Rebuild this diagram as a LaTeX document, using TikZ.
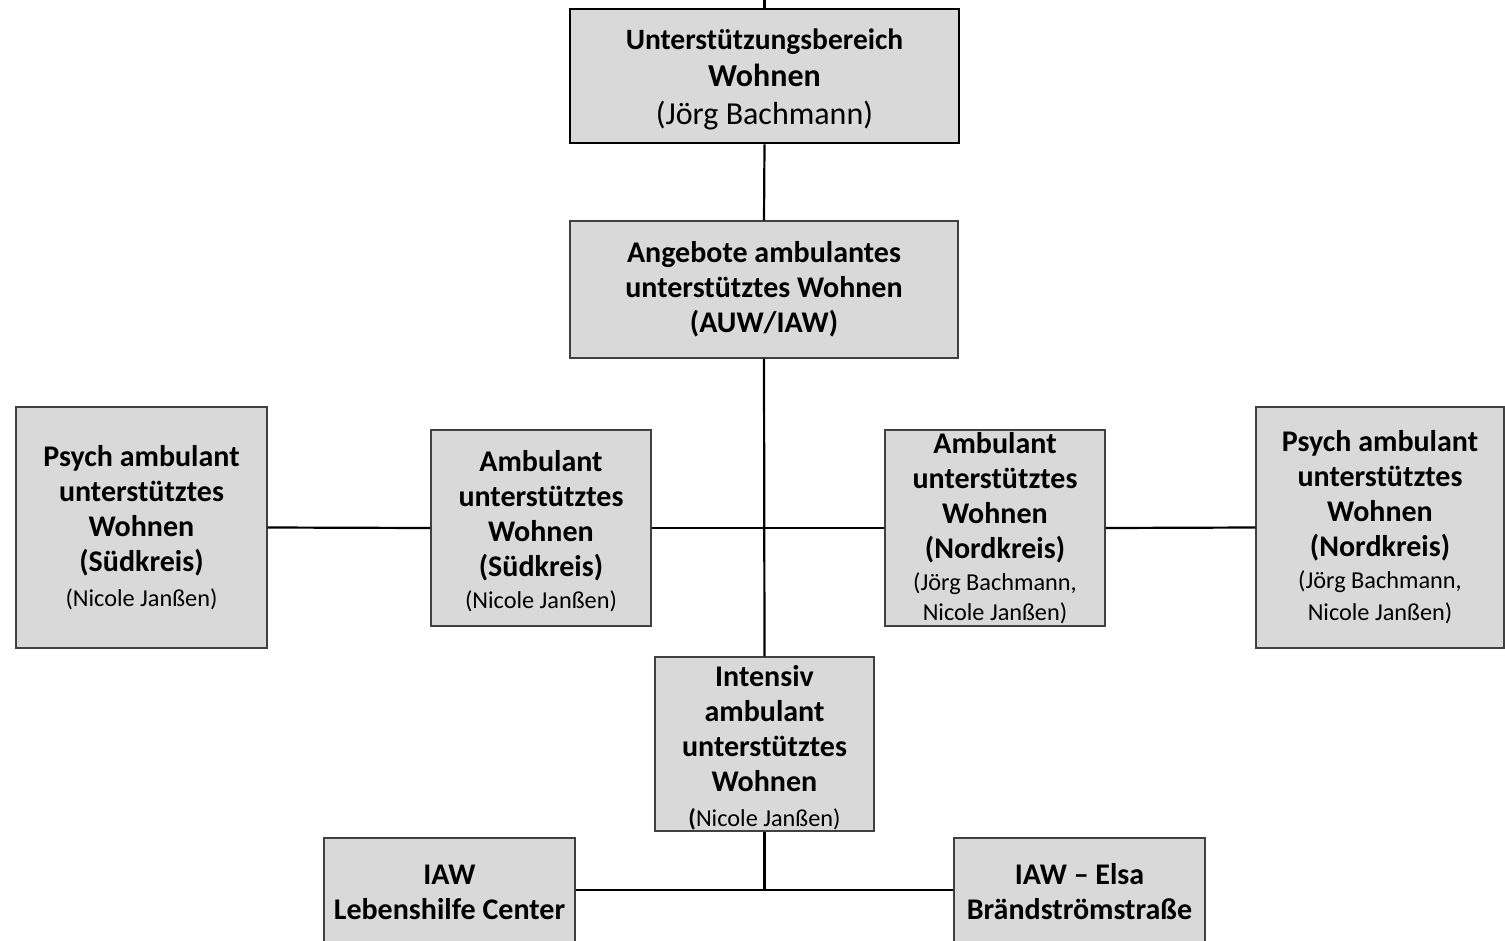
\documentclass[tikz,border=0pt]{standalone}
\usepackage{fontspec}
\setmainfont{Carlito}
\definecolor{boxfill}{HTML}{D9D9D9}
\definecolor{boxline}{HTML}{404040}
\newcommand{\bigb}{\fontsize{30}{35}\selectfont\bfseries}
\newcommand{\smallr}{\fontsize{24.3}{32}\selectfont\mdseries}
\tikzset{
  orgbox/.style={draw=boxline, line width=1.3pt, fill=boxfill, align=center, inner sep=0pt, font=\bigb},
  topbox/.style={orgbox, draw=black, line width=2.6pt},
  link/.style={draw=black, line width=2.2pt}
}
\begin{document}
\begin{tikzpicture}[x=1pt,y=-1pt]
\useasboundingbox (0,0) rectangle (1505,940);
\node[topbox, minimum width=389pt, minimum height=134pt] (top) at (764.5,76) {{\fontsize{29.5}{37}\selectfont\bfseries\rule{0pt}{27pt}Unterstützungsbereich}\\[2pt]{\fontsize{32}{38}\selectfont\bfseries Wohnen}\\[3pt]{\fontsize{32}{38}\selectfont\mdseries (Jörg Bachmann)}};
\node[orgbox, minimum width=388pt, minimum height=137pt] (ang) at (764,289.5) {Angebote ambulantes\\unterstütztes Wohnen\\(AUW/IAW)};
\node[orgbox, minimum width=251pt, minimum height=241pt] (psS) at (141.5,527.5) {Psych ambulant\\unterstütztes\\Wohnen\\(Südkreis)\\{\smallr (Nicole Janßen)}};
\node[orgbox, minimum width=220pt, minimum height=196pt] (amS) at (541,528) {\rule{0pt}{28pt}Ambulant\\unterstütztes\\Wohnen\\(Südkreis)\\[-3pt]{\smallr (Nicole Janßen)}};
\node[orgbox, minimum width=220pt, minimum height=196pt] (amN) at (995,528) {Ambulant\\unterstütztes\\Wohnen\\(Nordkreis)\\[-3pt]{\smallr (Jörg Bachmann,}\\[-5pt]{\smallr Nicole Janßen)}};
\node[orgbox, minimum width=248pt, minimum height=241pt] (psN) at (1380,527.5) {Psych ambulant\\unterstütztes\\Wohnen\\(Nordkreis)\\[-3pt]{\smallr (Jörg Bachmann,}\\[-3pt]{\smallr Nicole Janßen)}};
\node[orgbox, minimum width=219pt, minimum height=174pt] (int) at (764.5,744) {\rule{0pt}{28pt}Intensiv\\ambulant\\unterstütztes\\Wohnen\\{\smallr\textbf{(}Nicole Janßen)}};
\node[orgbox, minimum width=251pt, minimum height=108pt] (iawL) at (449.5,892) {IAW\\Lebenshilfe Center};
\node[orgbox, minimum width=251pt, minimum height=108pt] (iawE) at (1079.5,892) {IAW – Elsa\\Brändströmstraße};
\coordinate (up) at (764.5,0);
\coordinate (j) at (764.5,890);
\draw[link] (up) -- (top.north);
\draw[link] (top.south) -- (ang.north);
\draw[link] (ang.south) -- (int.north);
\draw[link] (psS.east) -- (amS.west);
\draw[link] (amS.east) -- (amN.west);
\draw[link] (amN.east) -- (psN.west);
\draw[link] (int.south) -- (j);
\draw[link] (iawL.east |- j) -- (iawE.west |- j);
\end{tikzpicture}
\end{document}
